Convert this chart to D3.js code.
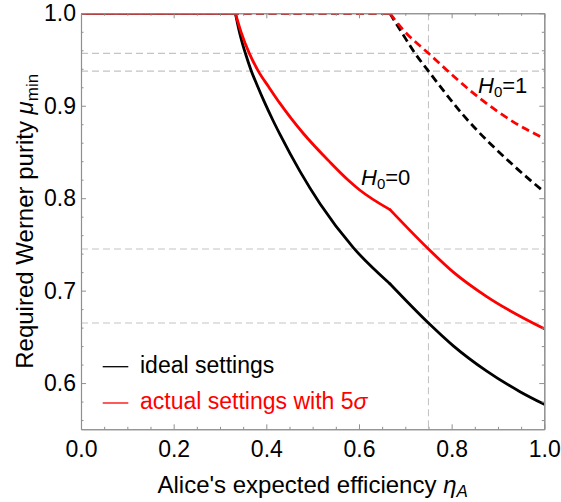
<!DOCTYPE html>
<html>
<head>
<meta charset="utf-8">
<script src="https://cdn.jsdelivr.net/npm/d3@7"></script>
<style>
  html, body { margin: 0; padding: 0; background: #fff; }
  svg { display: block; font-family: "Liberation Sans", Arial, sans-serif; }
</style>
</head>
<body>
<svg id="chart" width="561" height="502"></svg>
<script>
// ---- data ----
const xTicks = [0, 0.2, 0.4, 0.6, 0.8, 1.0];
const xMinor = [0.05, 0.1, 0.15, 0.25, 0.3, 0.35, 0.45, 0.5, 0.55, 0.65, 0.7, 0.75, 0.85, 0.9, 0.95];
const yTicks = [0.6, 0.7, 0.8, 0.9, 1.0];
const yMinor = [0.56, 0.58, 0.62, 0.64, 0.66, 0.68, 0.72, 0.74, 0.76, 0.78, 0.82, 0.84, 0.86, 0.88, 0.92, 0.94, 0.96, 0.98];
const gridY = [0.9567, 0.9375, 0.745, 0.665];
const gridX = [0.75];

// ideal settings, H0=0 (black solid)
const idealH0 = [[0,1],[0.3333,1],[0.340,0.984],[0.347,0.970],[0.355,0.9565],[0.367,0.9385],[0.38,0.9225],[0.395,0.905],[0.415,0.8835],[0.4295,0.869],[0.4727,0.829],[0.5159,0.794],[0.5877,0.7465],[0.6667,0.7075],[0.75,0.665],[0.8036,0.6403],[0.875,0.6132],[0.9475,0.5907],[1.0,0.577]];
const idealH0Breaks = [0.3333, 0.6667];
// actual settings with 5 sigma, H0=0 (red solid)
const actualH0 = [[0,1],[0.3333,1],[0.345,0.9805],[0.3633,0.9567],[0.3827,0.9375],[0.405,0.9205],[0.4295,0.9025],[0.4548,0.8855],[0.48,0.870],[0.5374,0.839],[0.577,0.8194],[0.6022,0.8086],[0.6669,0.7876],[0.75,0.745],[0.8036,0.720],[0.8757,0.6935],[1.0,0.6587]];
const actualH0Breaks = [0.3333, 0.6669];
// ideal settings, H0=1 (black dashed)
const idealH1 = [[0,1],[0.6667,1],[0.6957,0.9765],[0.721,0.9567],[0.75,0.9375],[0.8252,0.8898],[0.933,0.8356],[1.0,0.8067]];
const idealH1Breaks = [0.6667];
// actual settings, H0=1 (red dashed)
const actualH1 = [[0,1],[0.6667,1],[0.6957,0.982],[0.75,0.9567],[0.861,0.908],[0.933,0.8826],[1.0,0.8646]];
const actualH1Breaks = [0.6667];

const legendLabels = ["ideal settings", "actual settings with 5"];

// ---- layout ----
const L = 81, R = 544.3, T = 13.3, B = 429.3;
const svg = d3.select("#chart");
const x = d3.scaleLinear().domain([0, 1]).range([L, R]);
const y = d3.scaleLinear().domain([0.55, 1]).range([B, T]);
const frameColor = "#8f8f8f";

// gridlines
const grid = svg.append("g");
grid.selectAll("line.gy").data(gridY).join("line")
  .attr("x1", L).attr("x2", R)
  .attr("y1", d => y(d)).attr("y2", d => y(d))
  .attr("stroke", "#c4c4c4").attr("stroke-width", 1.1).attr("stroke-dasharray", "7,4");
grid.selectAll("line.gx").data(gridX).join("line")
  .attr("y1", T).attr("y2", B)
  .attr("x1", d => x(d)).attr("x2", d => x(d))
  .attr("stroke", "#c4c4c4").attr("stroke-width", 1.1).attr("stroke-dasharray", "7,4");

// clip
svg.append("clipPath").attr("id", "clip").append("rect")
  .attr("x", L).attr("y", T).attr("width", R - L).attr("height", B - T);

const line = d3.line().x(d => x(d[0])).y(d => y(d[1])).curve(d3.curveMonotoneX);
function segments(data, breaks) {
  const cuts = [data[0][0], ...breaks, data[data.length - 1][0]];
  const segs = [];
  for (let i = 0; i < cuts.length - 1; i++) {
    segs.push(data.filter(d => d[0] >= cuts[i] - 1e-9 && d[0] <= cuts[i + 1] + 1e-9));
  }
  return segs;
}
const curves = svg.append("g").attr("clip-path", "url(#clip)");
function drawCurve(data, breaks, color, dash) {
  const g = curves.append("g");
  g.selectAll("path").data(segments(data, breaks)).join("path")
    .attr("d", line)
    .attr("fill", "none")
    .attr("stroke", color)
    .attr("stroke-width", 2.8)
    .attr("stroke-linejoin", "round")
    .attr("stroke-linecap", dash ? "butt" : "round")
    .attr("stroke-dasharray", dash ? "8,4.5" : null);
}
drawCurve(idealH0, idealH0Breaks, "#000", false);
drawCurve(actualH0, actualH0Breaks, "#ff0000", false);
drawCurve(idealH1, idealH1Breaks, "#000", true);
drawCurve(actualH1, actualH1Breaks, "#ff0000", true);

// frame + ticks
function styleAxis(g) {
  g.select(".domain").attr("stroke", frameColor).attr("stroke-width", 1.1);
  g.selectAll(".tick line").attr("stroke", frameColor).attr("stroke-width", 1);
  g.selectAll(".tick text").attr("fill", "#000").attr("font-size", 23);
}
const ax = svg.append("g");
ax.append("g").attr("transform", `translate(0,${B})`)
  .call(d3.axisBottom(x).tickValues(xTicks).tickSize(-5).tickPadding(11).tickSizeOuter(0)
    .tickFormat(d3.format(".1f")))
  .call(styleAxis);
ax.append("g").attr("transform", `translate(0,${B})`)
  .call(d3.axisBottom(x).tickValues(xMinor).tickSize(-2.5).tickSizeOuter(0).tickFormat(""))
  .call(styleAxis);
ax.append("g").attr("transform", `translate(0,${T})`)
  .call(d3.axisTop(x).tickValues(xTicks).tickSize(-5).tickSizeOuter(0).tickFormat(""))
  .call(styleAxis);
ax.append("g").attr("transform", `translate(0,${T})`)
  .call(d3.axisTop(x).tickValues(xMinor).tickSize(-2.5).tickSizeOuter(0).tickFormat(""))
  .call(styleAxis);
ax.append("g").attr("transform", `translate(${L},0)`)
  .call(d3.axisLeft(y).tickValues(yTicks).tickSize(-5).tickPadding(5).tickSizeOuter(0)
    .tickFormat(d3.format(".1f")))
  .call(styleAxis);
ax.append("g").attr("transform", `translate(${L},0)`)
  .call(d3.axisLeft(y).tickValues(yMinor).tickSize(-2.5).tickSizeOuter(0).tickFormat(""))
  .call(styleAxis);
ax.append("g").attr("transform", `translate(${R},0)`)
  .call(d3.axisRight(y).tickValues(yTicks).tickSize(-5).tickSizeOuter(0).tickFormat(""))
  .call(styleAxis);
ax.append("g").attr("transform", `translate(${R},0)`)
  .call(d3.axisRight(y).tickValues(yMinor).tickSize(-2.5).tickSizeOuter(0).tickFormat(""))
  .call(styleAxis);
ax.selectAll("text").attr("font-family", "Liberation Sans, Arial, sans-serif");

// axis labels
const xl = svg.append("text").attr("x", (L + R) / 2).attr("y", 493)
  .attr("text-anchor", "middle").attr("font-size", 24).attr("fill", "#000");
xl.append("tspan").text("Alice's expected efficiency ");
xl.append("tspan").attr("font-style", "italic").text("η");
xl.append("tspan").attr("font-style", "italic").attr("font-size", 17).attr("dy", 4).text("A");

const yl = svg.append("text").attr("transform", `translate(33,${(T + B) / 2}) rotate(-90)`)
  .attr("text-anchor", "middle").attr("font-size", 24).attr("fill", "#000");
yl.append("tspan").text("Required Werner purity ");
yl.append("tspan").attr("font-style", "italic").text("μ");
yl.append("tspan").attr("font-size", 17).attr("dy", 5).text("min");

// annotations
function hLabel(px, py, val) {
  const t = svg.append("text").attr("x", px).attr("y", py).attr("font-size", 22).attr("fill", "#000");
  t.append("tspan").attr("font-style", "italic").text("H");
  t.append("tspan").attr("font-size", 15).attr("dy", 4).text("0");
  t.append("tspan").attr("dy", -4).text("=" + val);
}
hLabel(361, 185, "0");
hLabel(478, 93, "1");

// legend
const legColors = ["#000", "#ff0000"];
const leg = svg.append("g");
legendLabels.forEach((lab, i) => {
  const yy = 366.7 + i * 36.3;
  leg.append("line").attr("x1", 102.7).attr("x2", 128.3).attr("y1", yy).attr("y2", yy)
    .attr("stroke", legColors[i]).attr("stroke-width", 1.3);
  const t = leg.append("text").attr("x", 140).attr("y", yy + 6.3)
    .attr("font-size", 23).attr("fill", legColors[i]).text(lab);
  if (i === 1) t.append("tspan").attr("font-style", "italic").text("σ");
});
</script>
</body>
</html>
